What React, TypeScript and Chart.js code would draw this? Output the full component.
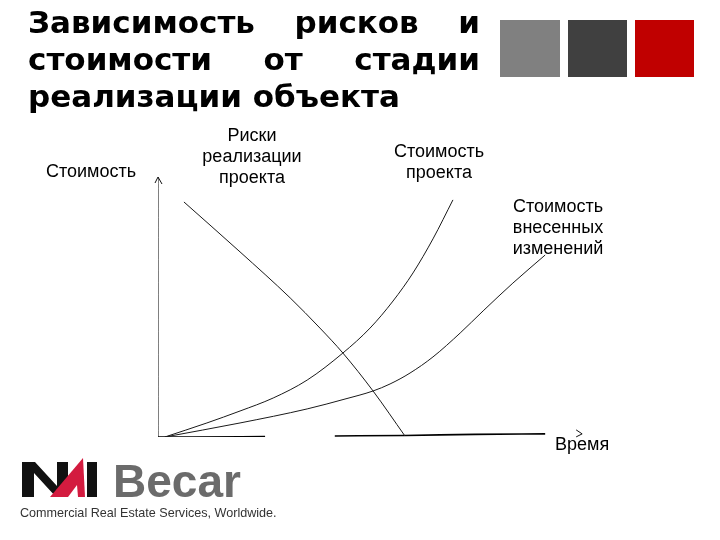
import React, { useEffect, useRef } from "react";
import { Chart, registerables } from "chart.js";

Chart.register(...registerables);

// Sketch data (time 0..100, cost/risk 0..100)
const riskX = [6.1, 19.3, 31.1, 38.1, 43.5, 50.6, 58.1];
const riskY = [90.4, 71.2, 53.5, 41.9, 32.3, 17.7, 0.4];

const projectX = [1.6, 11.5, 19.3, 27.1, 35.1, 43.5, 49.9, 55.3, 60.0, 64.7, 69.4];
const projectY = [0, 5.4, 10.0, 15.0, 21.9, 32.3, 41.9, 52.3, 63.1, 76.2, 91.2];

const changeX = [1.6, 19.3, 35.1, 44.0, 50.6, 54.6, 59.3, 64.7, 71.1, 76.5, 83.5, 91.1];
const changeY = [0, 5.4, 10.8, 14.6, 17.7, 20.4, 24.6, 30.8, 40.0, 48.5, 59.2, 70.0];

const axisVX = [0, 0];
const axisVY = [0, 100];

const baseX = [0, 8.2, 25.2, 33.0, 41.6, 58.1, 74.6, 91.1];
const baseY = [0, 0, 0.2, null, 0.4, 0.6, 1.0, 1.2];

const arrowTip = { x: 99.8, y: 1.2 };

const title = ["Зависимость рисков и", "стоимости от стадии", "реализации объекта"];
const labelCost = "Стоимость";
const labelRisk = ["Риски", "реализации", "проекта"];
const labelProject = ["Стоимость", "проекта"];
const labelChange = ["Стоимость", "внесенных", "изменений"];
const labelTime = "Время";

const toPts = (xs: number[], ys: (number | null)[]) => xs.map((x, i) => ({ x, y: ys[i] }));

const arrowPlugin = {
  id: "arrows",
  afterDatasetsDraw(chart: any) {
    const { ctx, scales } = chart;
    const xs = scales.x, ys = scales.y;
    ctx.save();
    ctx.strokeStyle = "#111";
    ctx.lineWidth = 1;
    const vx = xs.getPixelForValue(0), vy = ys.getPixelForValue(100);
    ctx.beginPath();
    ctx.moveTo(vx - 3, vy + 6);
    ctx.lineTo(vx, vy);
    ctx.lineTo(vx + 4, vy + 7);
    ctx.stroke();
    const hx = xs.getPixelForValue(arrowTip.x), hy = ys.getPixelForValue(arrowTip.y);
    ctx.beginPath();
    ctx.moveTo(hx - 6, hy - 4);
    ctx.lineTo(hx, hy);
    ctx.lineTo(hx - 6, hy + 3);
    ctx.stroke();
    ctx.restore();
  },
};

export default function App() {
  const ref = useRef<HTMLCanvasElement | null>(null);
  useEffect(() => {
    const prevMargin = document.body.style.margin;
    document.body.style.margin = "0";
    const curve = (data: any[], color = "#1a1a1a") => ({
      data,
      showLine: true,
      borderColor: color,
      borderWidth: 1,
      pointRadius: 0,
      tension: 0.4,
      cubicInterpolationMode: "monotone" as const,
      fill: false,
    });
    const chart = new Chart(ref.current as HTMLCanvasElement, {
      type: "scatter",
      data: {
        datasets: [
          curve(toPts(riskX, riskY)),
          curve(toPts(projectX, projectY)),
          curve(toPts(changeX, changeY)),
          { ...curve(toPts(axisVX, axisVY), "#000"), tension: 0 },
          { ...curve(toPts(baseX, baseY), "#000"), tension: 0, borderWidth: 1.6, spanGaps: false },
        ],
      },
      options: {
        animation: false,
        responsive: false,
        maintainAspectRatio: false,
        devicePixelRatio: 1,
        layout: { padding: { left: 158, right: 137, top: 177, bottom: 103 } },
        plugins: { legend: { display: false }, tooltip: { enabled: false } },
        scales: {
          x: { type: "linear", min: 0, max: 100, display: false },
          y: { type: "linear", min: 0, max: 100, display: false },
        },
      },
      plugins: [arrowPlugin],
    });
    return () => {
      chart.destroy();
      document.body.style.margin = prevMargin;
    };
  }, []);

  const lbl: React.CSSProperties = {
    position: "absolute",
    fontFamily: "'Liberation Sans', Arial, sans-serif",
    fontSize: 18,
    lineHeight: "21px",
    color: "#000",
    textAlign: "center",
    whiteSpace: "nowrap",
  };

  return (
    <div style={{ position: "absolute", left: 0, top: 0, width: 720, height: 540, background: "#fff", overflow: "hidden" }}>
      <canvas ref={ref} width={720} height={540} style={{ position: "absolute", left: 0, top: 0, width: 720, height: 540 }} />
      <div style={{ position: "absolute", left: 28, top: 4, width: 452, fontFamily: "'DejaVu Sans', sans-serif", fontWeight: "bold", fontSize: 31, lineHeight: "37px", color: "#000" }}>
        {title.map((t, i) => (
          <div key={i} style={{ textAlign: "justify", textAlignLast: i < title.length - 1 ? "justify" : "left", whiteSpace: "nowrap" } as React.CSSProperties}>{t}</div>
        ))}
      </div>
      <div style={{ position: "absolute", left: 500, top: 20, width: 60, height: 57, background: "#808080" }} />
      <div style={{ position: "absolute", left: 568, top: 20, width: 59, height: 57, background: "#404040" }} />
      <div style={{ position: "absolute", left: 635, top: 20, width: 59, height: 57, background: "#c00000" }} />
      <div style={{ ...lbl, left: 41, width: 100, top: 161 }}>{labelCost}</div>
      <div style={{ ...lbl, left: 192, width: 120, top: 125 }}>
        {labelRisk.map((t, i) => <div key={i}>{t}</div>)}
      </div>
      <div style={{ ...lbl, left: 379, width: 120, top: 141 }}>
        {labelProject.map((t, i) => <div key={i}>{t}</div>)}
      </div>
      <div style={{ ...lbl, left: 498, width: 120, top: 196 }}>
        {labelChange.map((t, i) => <div key={i}>{t}</div>)}
      </div>
      <div style={{ ...lbl, left: 555, top: 434, textAlign: "left" }}>{labelTime}</div>
      <svg width={100} height={45} viewBox="0 0 100 45" style={{ position: "absolute", left: 0, top: 455 }}>
        <polygon points="22,7 35,7 57,31 57,7 68,7 68,42 56,42 34,18 34,42 22,42" fill="#111" />
        <polygon points="50,42 83,3 85,42" fill="#d31b3f" />
        <polygon points="68,42 77,30 78,42" fill="#fff" />
        <rect x={87} y={7} width={10} height={35} fill="#111" />
      </svg>
      <div style={{ position: "absolute", left: 113, top: 458, fontFamily: "'Liberation Sans', Arial, sans-serif", fontWeight: "bold", fontSize: 46, lineHeight: "46px", color: "#6b6b6b" }}>Becar</div>
      <div style={{ position: "absolute", left: 20, top: 507, fontFamily: "'Liberation Sans', Arial, sans-serif", fontSize: 12.6, lineHeight: "13px", color: "#333", whiteSpace: "nowrap" }}>Commercial Real Estate Services, Worldwide.</div>
    </div>
  );
}
